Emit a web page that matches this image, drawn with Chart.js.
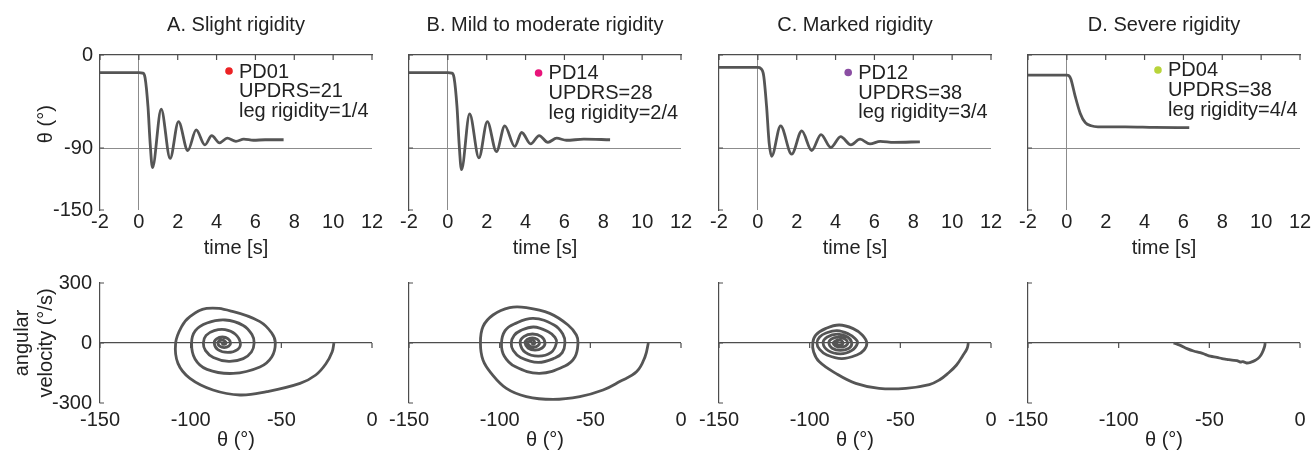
<!DOCTYPE html>
<html>
<head>
<meta charset="utf-8">
<script src="https://cdn.jsdelivr.net/npm/chart.js@4.4.1/dist/chart.umd.min.js"></script>
<style>
  html, body { margin: 0; padding: 0; background: #fff; overflow: hidden; }
  #wrap { position: relative; width: 1313px; height: 456px; }
  canvas { position: absolute; }
</style>
</head>
<body>
<div id="wrap"></div>
<script>
// panel titles and patient notes
const panelTitles = ["A. Slight rigidity", "B. Mild to moderate rigidity", "C. Marked rigidity", "D. Severe rigidity"];
const patientIds = ["PD01", "PD14", "PD12", "PD04"];
const updrsScores = [21, 28, 38, 38];
const legRigidity = ["1/4", "2/4", "3/4", "4/4"];
const dotColors = ["#ec2224", "#e8147a", "#8b4ea3", "#b8d43a"];
const dotTime = [4.64, 4.67, 4.65, 4.69];
const dotTheta = [-15.5, -17.4, -17, -14.5];

// tick labels
const timeTicks = [-2, 0, 2, 4, 6, 8, 10, 12];
const thetaTicks = [-150, -90, 0];
const phaseTicks = [-150, -100, -50, 0];
const velocityTicks = [-300, 0, 300];

// top row: knee angle over time (s, deg)
const timeA = [-2, 0, 0.2, 0.32, 0.47, 0.58, 0.7, 1.15, 1.61, 2.04, 2.52, 2.95, 3.4, 3.75, 4.15, 4.55, 5.0, 5.4, 5.9, 6.5, 7.45];
const thetaA = [-17, -17, -17.5, -22, -50, -85, -109, -52.5, -100, -64.5, -92.5, -72.5, -87, -78, -85, -80.5, -83.5, -81.5, -82.5, -82, -82];
const timeB = [-2, 0, 0.2, 0.32, 0.47, 0.58, 0.7, 1.12, 1.6, 2.03, 2.5, 2.93, 3.44, 3.8, 4.26, 4.7, 5.15, 5.6, 6.1, 7.0, 8.35];
const thetaB = [-17, -17, -17.5, -22, -50, -86, -111, -57, -99.5, -64.5, -93.5, -68.5, -88.5, -75, -86, -78, -84.5, -80.5, -82.5, -81.5, -82];
const timeC = [-2, 0, 0.15, 0.3, 0.45, 0.58, 0.71, 1.17, 1.74, 2.26, 2.77, 3.25, 3.76, 4.26, 4.79, 5.26, 5.77, 6.3, 7.0, 8.34];
const thetaC = [-12, -12, -13, -20, -50, -85, -98, -68.5, -96, -73.5, -92.5, -77, -89.5, -79, -87, -81.5, -86, -83.5, -84.5, -84];
const timeD = [-2, 0, 0.1, 0.2, 0.43, 0.69, 0.95, 1.25, 1.6, 3.0, 4.5, 6.3];
const thetaD = [-19.5, -19.5, -20, -23, -40, -56.5, -65.5, -68.5, -69.5, -69.5, -70, -70.3];

// bottom row: phase portraits (deg, deg/s)
const phaseThetaA = [
  -21, -22, -25.5, -31, -39.7, -58, -72.8, -87.7, -100.4, -107, -108.3,
  -105, -100.4, -91.2, -76.5, -61.8, -55.3, -53.3,
  -55.3, -61.8, -76.6, -91, -97.6, -99.5,
  -97.4, -91, -81, -71, -66.2, -65,
  -66.5, -71, -79, -87.5, -91.8, -93,
  -91.5, -87, -81, -75.5, -72.6,
  -74.2, -79.5, -85, -87,
  -85.7, -82.5, -79.3, -78,
  -79, -81.5, -84, -85, -84.3, -82.7, -81.2, -80.5, -81.5, -82.5, -82];
const phaseVelA = [
  0, -45, -105, -160, -202, -243, -260, -235, -177, -102, 0,
  82, 132, 173, 157, 107, 50, 0,
  -70, -120, -152, -132, -80, 0,
  62, 100, 115, 88, 42, 0,
  -45, -78, -92, -72, -38, 0,
  38, 62, 67, 45, 0,
  -33, -47, -33, 0,
  21, 30, 21, 0,
  -16, -23, -16, 0, 10, 15, 10, 0, -7, -4, 0];
const phaseThetaB = [
  -18, -19.8, -24.4, -33.8, -43, -55.8, -70.6, -85.3, -96.3, -104.6, -109.2, -110.6,
  -109.2, -103.7, -94.5, -85.3, -72.4, -62.3, -57.7, -56.8,
  -58.5, -64, -78, -91.5, -97.5, -99,
  -97, -92, -81.5, -70, -65.2, -64,
  -65.5, -69.5, -78.8, -88.5, -92.5, -93.6,
  -92, -88.5, -81.2, -73.2, -69.5, -68.7,
  -71.6, -78.7, -85.8, -88.7,
  -86.7, -81.9, -77, -75,
  -76.6, -80.5, -84.4, -86, -84.8, -82, -79.2, -78,
  -79, -81.2, -83.5, -84.5, -83.5, -81.5, -80.6, -81.5, -82.5];
const phaseVelB = [
  0, -68, -143, -193, -235, -268, -282, -268, -227, -152, -85, 0,
  82, 140, 177, 177, 148, 90, 40, 0,
  -70, -115, -152, -118, -65, 0,
  62, 95, 123, 90, 45, 0,
  -48, -75, -97, -72, -38, 0,
  38, 62, 80, 56, 28, 0,
  -47, -66, -47, 0,
  32, 45, 32, 0,
  -25, -36, -25, 0, 18, 26, 18, 0,
  -14, -21, -14, 0, 9, 13, 0, -6, 0];
const phaseThetaC = [
  -12.5, -13.2, -15.5, -19, -23.5, -28.5, -34, -47, -61.7, -74.6, -85.6, -94.8, -97.8, -98.3,
  -96.6, -91, -83.7, -76, -71, -68.5,
  -70, -74, -82.3, -90.5, -94.5, -96,
  -94.5, -91, -84.8, -78.5, -75, -73.6,
  -76.9, -83.1, -89.8, -92.6,
  -90.3, -84.7, -79.1, -76.8,
  -78.3, -83.1, -87.6, -89.4,
  -88, -84.2, -80.5, -79,
  -80.2, -83, -85.8, -87, -85.6, -83.8, -82.3, -81.6, -82.5, -84.5, -85.8, -84.7, -84];
const phaseVelC = [
  0, -28, -62, -110, -150, -185, -208, -227, -227, -202, -152, -93, -45, 0,
  40, 73, 90, 72, 40, 0,
  -35, -60, -78, -60, -32, 0,
  30, 50, 62, 45, 22, 0,
  -38, -54, -38, 0,
  30, 44, 30, 0,
  -26, -37, -26, 0,
  20, 29, 20, 0,
  -15, -21, -15, 0, 11, 16, 11, 0, -8, -10, 0, 5, 0];
const phaseThetaD = [-19.2, -19.6, -21, -22.5, -24.6, -27, -29.5, -31.5, -33, -34.8, -37.5, -40.3, -43, -45.8, -49.5, -52, -55, -58.7, -62.3, -66, -68.5, -69.7];
const phaseVelD = [0, -20, -52, -72, -86, -96, -100, -93, -95, -88, -86, -82, -78, -72, -66, -58, -48, -40, -28, -12, -4, 0];

const topTimes = [timeA, timeB, timeC, timeD];
const topThetas = [thetaA, thetaB, thetaC, thetaD];
const phaseThetas = [phaseThetaA, phaseThetaB, phaseThetaC, phaseThetaD];
const phaseVels = [phaseVelA, phaseVelB, phaseVelC, phaseVelD];

const FONT = "'Liberation Sans', Arial, sans-serif";
const font = { family: FONT, size: 20, lineHeight: 1.2 };
const TEXT = "#222222";
const LINE = "#555555";
const AXIS = "#4d4d4d";
const REF = "#8c8c8c";
const NONE = "rgba(0,0,0,0)";

const canvasLefts = [0, 309, 619, 928];
const wrap = document.getElementById("wrap");

function addCanvas(left, top, w, h) {
  const c = document.createElement("canvas");
  c.width = w;
  c.height = h;
  c.style.left = left + "px";
  c.style.top = top + "px";
  wrap.appendChild(c);
  return c;
}

function setTicks(values) {
  return (scale) => { scale.ticks = values.map(v => ({ value: v })); };
}

// small tick marks that point into the plot
const inwardTicks = {
  id: "inwardTicks",
  afterDraw(chart, args, opts) {
    const { ctx, chartArea: area, scales } = chart;
    const xs = scales[opts.xId];
    const ys = scales.y;
    const base = opts.onZero ? ys.getPixelForValue(0) : area.top;
    ctx.save();
    ctx.strokeStyle = AXIS;
    ctx.lineWidth = 1.2;
    ctx.beginPath();
    xs.ticks.forEach(t => {
      const px = xs.getPixelForValue(t.value);
      ctx.moveTo(px, base);
      ctx.lineTo(px, base + 5);
    });
    ys.ticks.forEach(t => {
      const py = ys.getPixelForValue(t.value);
      ctx.moveTo(area.left, py);
      ctx.lineTo(area.left + 4, py);
    });
    ctx.stroke();
    ctx.restore();
  }
};

// patient label next to the coloured dot
const notePlugin = {
  id: "note",
  afterDatasetsDraw(chart, args, opts) {
    const pt = chart.getDatasetMeta(1).data[0];
    const i = opts.index;
    const lines = [patientIds[i], "UPDRS=" + updrsScores[i], "leg rigidity=" + legRigidity[i]];
    const ctx = chart.ctx;
    ctx.save();
    ctx.font = "20px " + FONT;
    ctx.fillStyle = TEXT;
    ctx.textAlign = "left";
    ctx.textBaseline = "middle";
    lines.forEach((s, k) => ctx.fillText(s, pt.x + 10, pt.y + 1 + k * 19.7));
    ctx.restore();
  }
};

function makeTopChart(i) {
  const canvas = addCanvas(canvasLefts[i], 0, 385, 260);
  const pts = topTimes[i].map((t, k) => ({ x: t, y: topThetas[i][k] }));
  new Chart(canvas.getContext("2d"), {
    type: "line",
    data: {
      datasets: [
        { data: pts, borderColor: LINE, borderWidth: 2.8, pointRadius: 0, tension: 0.4, cubicInterpolationMode: "monotone" },
        { data: [{ x: dotTime[i], y: dotTheta[i] }], showLine: false, pointRadius: 3.8, pointBorderWidth: 0, pointBackgroundColor: dotColors[i] }
      ]
    },
    options: {
      responsive: false,
      animation: false,
      events: [],
      layout: { padding: { left: 0, right: 13, top: 0, bottom: 0 } },
      plugins: {
        legend: { display: false },
        tooltip: { enabled: false },
        inwardTicks: { xId: "xTop", onZero: false },
        note: { index: i }
      },
      scales: {
        x: {
          type: "linear", min: -2, max: 12,
          afterBuildTicks: setTicks(timeTicks),
          afterFit: (s) => { s.height = 50; },
          grid: { color: (c) => (c.tick && c.tick.value === 0 ? REF : NONE), drawTicks: false, lineWidth: 1 },
          border: { display: false },
          ticks: { padding: 0, font, color: TEXT, maxRotation: 0, autoSkip: false },
          title: { display: true, text: "time [s]", font, color: TEXT, padding: { top: 0, bottom: 0 } }
        },
        xTop: {
          type: "linear", position: "top", min: -2, max: 12,
          afterBuildTicks: setTicks(timeTicks),
          afterFit: (s) => { s.height = 55; },
          grid: { display: false, drawTicks: false },
          border: { display: true, color: AXIS, width: 1.2 },
          ticks: { display: false },
          title: { display: true, text: panelTitles[i], font, color: TEXT, padding: { top: 13, bottom: 0 } }
        },
        y: {
          type: "linear", min: -150, max: 0,
          afterBuildTicks: setTicks(thetaTicks),
          afterFit: (s) => { s.width = 100; },
          grid: { color: (c) => (c.tick && c.tick.value === -90 ? REF : NONE), drawTicks: false, lineWidth: 1 },
          border: { display: true, color: AXIS, width: 1.2 },
          ticks: { display: i === 0, padding: 7, font, color: TEXT },
          // leading spaces nudge the rotated label up, as in the original figure
          title: { display: i === 0, text: "   θ (°)", font, color: TEXT, padding: { top: 34, bottom: 0 } }
        }
      }
    },
    plugins: [inwardTicks, notePlugin]
  });
}

function makePhaseChart(i) {
  const canvas = addCanvas(canvasLefts[i], 260, 385, 196);
  const pts = phaseThetas[i].map((th, k) => ({ x: th, y: phaseVels[i][k] }));
  new Chart(canvas.getContext("2d"), {
    type: "line",
    data: {
      datasets: [
        { data: pts, borderColor: LINE, borderWidth: 2.8, pointRadius: 0, tension: 0.4 }
      ]
    },
    options: {
      responsive: false,
      animation: false,
      events: [],
      layout: { padding: { left: 0, right: 13, top: 23, bottom: 0 } },
      plugins: {
        legend: { display: false },
        tooltip: { enabled: false },
        inwardTicks: { xId: "x", onZero: true }
      },
      scales: {
        x: {
          type: "linear", min: -150, max: 0,
          afterBuildTicks: setTicks(phaseTicks),
          afterFit: (s) => { s.height = 53; },
          grid: { display: false, drawTicks: false },
          border: { display: false },
          ticks: { padding: 5, font, color: TEXT, maxRotation: 0, autoSkip: false },
          title: { display: true, text: "θ (°)", font, color: TEXT, padding: { top: 0, bottom: 4 } }
        },
        y: {
          type: "linear", min: -300, max: 300,
          afterBuildTicks: setTicks(velocityTicks),
          afterFit: (s) => { s.width = 100; },
          grid: { color: (c) => (c.tick && c.tick.value === 0 ? AXIS : NONE), drawTicks: false, lineWidth: 1.2 },
          border: { display: true, color: AXIS, width: 1.2 },
          ticks: { display: i === 0, padding: 8, font, color: TEXT },
          title: { display: i === 0, text: ["angular", "velocity (°/s)"], font, color: TEXT, padding: { top: 10, bottom: 0 } }
        }
      }
    },
    plugins: [inwardTicks]
  });
}

for (let i = 0; i < 4; i++) {
  makeTopChart(i);
  makePhaseChart(i);
}
</script>
</body>
</html>
